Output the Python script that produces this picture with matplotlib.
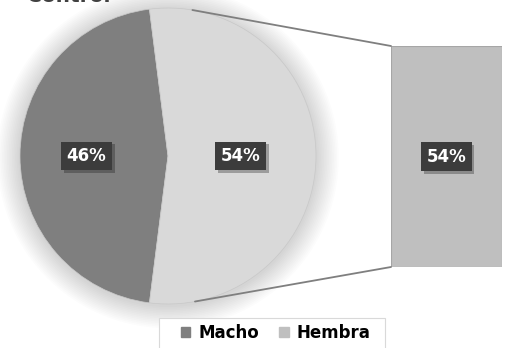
import numpy as np
import matplotlib.pyplot as plt
from matplotlib.patches import ConnectionPatch, Circle, Rectangle
from matplotlib import patheffects as pe

# data
categories = ["Macho", "Hembra"]
shares = [46, 54]
pie_colors = ["#7f7f7f", "#d9d9d9"]
bar_color = "#bfbfbf"
legend_colors = ["#7f7f7f", "#bfbfbf"]
title = "Control"

W, H = 506, 348
fig = plt.figure(figsize=(W / 100, H / 100), dpi=100)
fig.patch.set_facecolor("white")

# pie axes: center (168,156) px, radius 148 px
cx, cy, r = 168, 156, 148
ax = fig.add_axes([(cx - r) / W, 1 - (cy + r) / H, 2 * r / W, 2 * r / H])
ax.set_xlim(-1, 1)
ax.set_ylim(-1, 1)
ax.axis("off")

# soft shadow around the pie
for i in range(14):
    ax.add_patch(Circle((0.0, -0.01), 1.0 + 0.011 * (i + 1), color="black",
                        alpha=0.012, lw=0, zorder=0, clip_on=False))

start = 180 - shares[0] / sum(shares) * 360 / 2
wedges, _ = ax.pie(shares, colors=pie_colors, startangle=start, counterclock=True,
                   radius=1, center=(0, 0), frame=False,
                   wedgeprops=dict(edgecolor="#c8c8c8", linewidth=0.5))
ax.set_xlim(-1, 1)
ax.set_ylim(-1, 1)

bbox = dict(boxstyle="square,pad=0.32", fc="#3c3c3c", ec="none")


def label(axis, x, y, s):
    t = axis.text(x, y, s, ha="center", va="center", color="white",
                  fontsize=12, fontweight="bold", bbox=bbox, zorder=5)
    t.get_bbox_patch().set_path_effects(
        [pe.SimplePatchShadow(offset=(2, -2), alpha=0.3), pe.Normal()])
    return t


label(ax, -0.55, 0, f"{shares[0]}%")
label(ax, 0.49, 0, f"{shares[1]}%")

# bar of the second slice
bx0, bx1, by0, by1 = 391, 502, 46, 267
bax = fig.add_axes([bx0 / W, 1 - by1 / H, (bx1 - bx0) / W, (by1 - by0) / H])
bax.bar([0], [shares[1]], width=1, color=bar_color, edgecolor="#a6a6a6", linewidth=0.8)
bax.set_xlim(-0.5, 0.5)
bax.set_ylim(0, shares[1])
bax.axis("off")
label(bax, 0, shares[1] / 2, f"{shares[1]}%")

# connector lines
for ang, yb in [(80.5, shares[1]), (-79.5, 0)]:
    p = (np.cos(np.radians(ang)), np.sin(np.radians(ang)))
    con = ConnectionPatch(xyA=p, coordsA=ax.transData, xyB=(-0.5, yb),
                          coordsB=bax.transData, color="#7f7f7f", lw=1.3)
    fig.add_artist(con)

# title, cut off at the top edge as in the source image
fig.text(27 / W, 1 - 1.8 / H, title, ha="left", va="baseline", fontsize=14.5,
         fontweight="bold", color="#404040")

# legend frame (runs off the bottom edge)
fig.add_artist(Rectangle((159 / W, -0.02), (385 - 159) / W, 0.02 + (H - 318) / H,
                         transform=fig.transFigure, fc="white", ec="#d9d9d9", lw=0.8))
handles = [plt.Rectangle((0, 0), 1, 1, color=c) for c in legend_colors]
leg = fig.legend(handles, categories, loc="center", bbox_to_anchor=(276 / W, 1 - 333 / H),
                 ncol=2, frameon=False,
                 handlelength=0.55, handleheight=0.55, handletextpad=0.5,
                 columnspacing=1.2, borderpad=0.2,
                 prop=dict(size=12, weight="bold"))

fig.savefig("out.png", dpi=100, facecolor="white")
